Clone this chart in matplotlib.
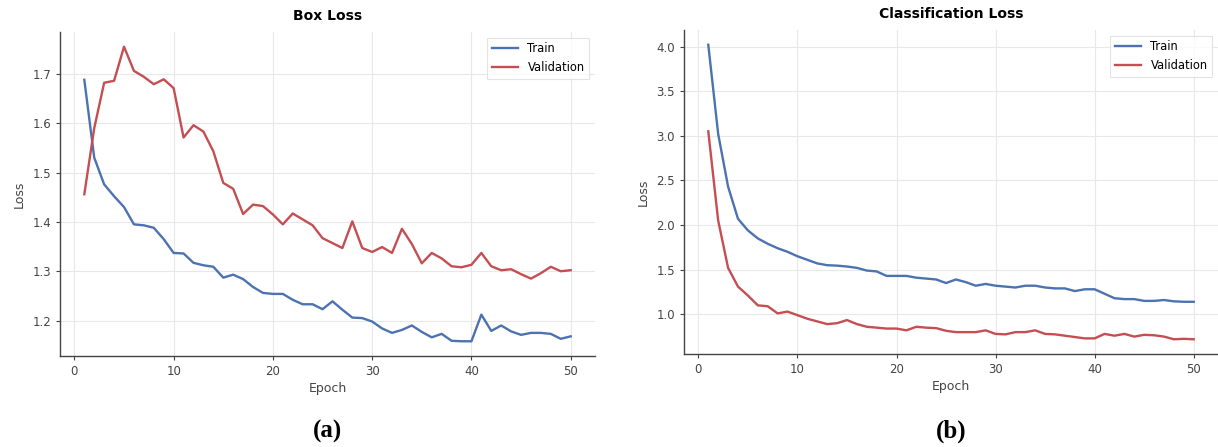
import matplotlib
matplotlib.use("Agg")
import matplotlib.pyplot as plt
import numpy as np

epochs = list(range(1, 51))

box_train = [1.688, 1.53, 1.476, 1.452, 1.430, 1.395, 1.393, 1.388, 1.365, 1.337,
             1.336, 1.317, 1.312, 1.309, 1.287, 1.293, 1.284, 1.268, 1.256, 1.254,
             1.254, 1.242, 1.233, 1.233, 1.223, 1.239, 1.222, 1.206, 1.205, 1.198,
             1.184, 1.175, 1.181, 1.190, 1.177, 1.166, 1.173, 1.159, 1.158, 1.158,
             1.212, 1.179, 1.190, 1.178, 1.171, 1.175, 1.175, 1.173, 1.163, 1.168]

box_val = [1.456, 1.59, 1.682, 1.686, 1.755, 1.706, 1.694, 1.679, 1.689, 1.671,
           1.571, 1.596, 1.583, 1.543, 1.479, 1.467, 1.416, 1.435, 1.432, 1.415,
           1.395, 1.417, 1.405, 1.393, 1.367, 1.357, 1.347, 1.401, 1.347, 1.339,
           1.349, 1.337, 1.386, 1.355, 1.316, 1.337, 1.326, 1.310, 1.308, 1.313,
           1.337, 1.310, 1.302, 1.304, 1.294, 1.285, 1.296, 1.309, 1.300, 1.302]

cls_train = [4.02, 3.02, 2.43, 2.07, 1.94, 1.85, 1.79, 1.74, 1.70, 1.65,
             1.61, 1.57, 1.55, 1.545, 1.535, 1.52, 1.49, 1.48, 1.43, 1.43,
             1.43, 1.41, 1.40, 1.39, 1.35, 1.39, 1.36, 1.32, 1.34, 1.32,
             1.31, 1.30, 1.32, 1.32, 1.30, 1.29, 1.29, 1.26, 1.28, 1.28,
             1.23, 1.18, 1.17, 1.17, 1.15, 1.15, 1.16, 1.145, 1.14, 1.14]

cls_val = [3.05, 2.05, 1.52, 1.31, 1.21, 1.10, 1.09, 1.01, 1.03, 0.99,
           0.95, 0.92, 0.89, 0.90, 0.935, 0.89, 0.86, 0.85, 0.84, 0.84,
           0.82, 0.86, 0.85, 0.845, 0.815, 0.80, 0.80, 0.80, 0.82, 0.78,
           0.775, 0.80, 0.80, 0.82, 0.78, 0.775, 0.76, 0.745, 0.73, 0.73,
           0.78, 0.76, 0.78, 0.75, 0.77, 0.765, 0.75, 0.72, 0.725, 0.72]

titles = ["Box Loss", "Classification Loss"]
panel_labels = ["(a)", "(b)"]
legend_labels = ["Train", "Validation"]

BLUE = "#4C72B0"
RED = "#C44E52"

fig = plt.figure(figsize=(12.18, 4.47), dpi=100)
W, H = 1218, 447
# axes rectangles in pixels: left, top, right, bottom
rects = [(60, 32, 595, 356), (684, 30, 1218, 354)]
series = [(box_train, box_val), (cls_train, cls_val)]

for i, ((l, t, r, b), (tr, va)) in enumerate(zip(rects, series)):
    ax = fig.add_axes([l / W, 1 - b / H, (r - l) / W, (b - t) / H])
    ax.plot(epochs, tr, color=BLUE, lw=1.7, label=legend_labels[0])
    ax.plot(epochs, va, color=RED, lw=1.7, label=legend_labels[1])
    ax.set_title(titles[i], fontsize=10, fontweight="bold", pad=9)
    ax.set_xlabel("Epoch", fontsize=9, color="#444444", labelpad=3)
    ax.set_ylabel("Loss", fontsize=9, color="#444444", labelpad=5)
    ax.tick_params(labelsize=8.5, colors="#444444", length=3)
    ax.grid(True, color="#e8e8e8", lw=0.8)
    ax.set_axisbelow(True)
    ax.spines["top"].set_visible(False)
    ax.spines["right"].set_visible(False)
    for s in ("left", "bottom"):
        ax.spines[s].set_color("#444444")
        ax.spines[s].set_linewidth(1.0)
    leg = ax.legend(loc="upper right", fontsize=8.3, frameon=True, fancybox=False,
                    edgecolor="#dddddd", handlelength=2.3)
    leg.get_frame().set_linewidth(0.8)
    fig.text(((l + r) / 2) / W, 1 - 431 / H, panel_labels[i], ha="center", va="center",
             fontsize=18, fontweight="bold", family="Liberation Serif")

fig.savefig("out.png", dpi=100, facecolor="white")
